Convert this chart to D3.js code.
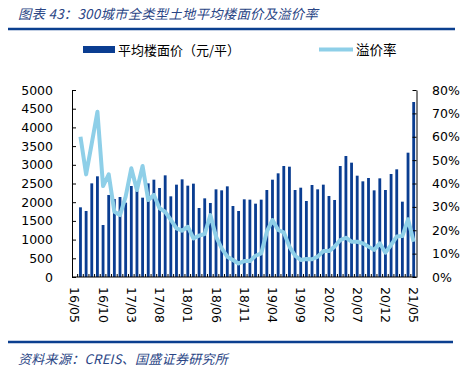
<!DOCTYPE html>
<html>
<head>
<meta charset="utf-8">
<script src="https://cdn.jsdelivr.net/npm/d3@7"></script>
<style>
  body { margin: 0; background: #fff; }
  svg { display: block; }
  .tick text { font-family: "DejaVu Sans", Verdana, sans-serif; font-size: 12.5px; fill: #000; }
</style>
</head>
<body>
<svg width="461" height="372"></svg>
<script>
// months on the category axis (16/05 has no value)
var months = ["16/05","16/06","16/07","16/08","16/09","16/10","16/11","16/12",
  "17/01","17/02","17/03","17/04","17/05","17/06","17/07","17/08","17/09","17/10","17/11","17/12",
  "18/01","18/02","18/03","18/04","18/05","18/06","18/07","18/08","18/09","18/10","18/11","18/12",
  "19/01","19/02","19/03","19/04","19/05","19/06","19/07","19/08","19/09","19/10","19/11","19/12",
  "20/01","20/02","20/03","20/04","20/05","20/06","20/07","20/08","20/09","20/10","20/11","20/12",
  "21/01","21/02","21/03","21/04","21/05"];

// 平均楼面价（元/平）
var prices = [null,1863,1765,2504,2692,1390,2193,2086,
  2139,1988,2433,2299,2121,2504,2602,2380,2718,2157,2469,2611,
  2442,2496,1845,2103,1979,2344,2317,2424,1898,1765,2077,2068,
  1961,2068,2326,2602,2772,2968,2950,2326,2388,2032,2460,2344,
  2469,2166,2059,2968,3235,3057,2709,2558,2647,2317,2638,2326,
  2754,2879,2014,3324,4679];

// 溢价率
var rates = [null,0.600,0.439,0.572,0.707,0.389,0.439,0.279,
  0.265,0.344,0.465,0.372,0.475,0.329,0.351,0.294,0.279,0.244,0.208,0.198,
  0.215,0.165,0.177,0.184,0.265,0.173,0.123,0.087,0.073,0.058,0.068,0.068,
  0.091,0.101,0.194,0.244,0.201,0.191,0.130,0.091,0.073,0.077,0.076,0.087,
  0.111,0.111,0.130,0.158,0.168,0.151,0.151,0.144,0.130,0.116,0.144,0.104,
  0.137,0.173,0.175,0.247,0.151];

var xLabels = ["16/05","16/10","17/03","17/08","18/01","18/06","18/11",
  "19/04","19/09","20/02","20/07","20/12","21/05"];
var leftTicks = [0,500,1000,1500,2000,2500,3000,3500,4000,4500,5000];
var rightTicks = [0,0.1,0.2,0.3,0.4,0.5,0.6,0.7,0.8];

var barColor = "#0a3d91",
  lineColor = "#8ecfe8",
  textBlue = "#2a4585";

var svg = d3.select("svg");
var plotLeft = 72, plotRight = 416.5, plotTop = 90, plotBottom = 277;

var x = d3.scaleBand().domain(months).range([plotLeft, plotRight]).paddingInner(0.5).paddingOuter(0.25);
var yL = d3.scaleLinear().domain([0, 5000]).range([plotBottom, plotTop]);
var yR = d3.scaleLinear().domain([0, 0.8]).range([plotBottom, plotTop]);

// title + rule
svg.append("text")
  .attr("x", 18).attr("y", 19)
  .attr("font-family", "'Noto Sans CJK SC', sans-serif")
  .attr("font-style", "italic")
  .attr("font-size", "13.3px")
  .attr("letter-spacing", "0.3px")
  .attr("fill", textBlue)
  .text("图表 43：300城市全类型土地平均楼面价及溢价率");
svg.append("line")
  .attr("x1", 8).attr("x2", 455).attr("y1", 29).attr("y2", 29)
  .attr("stroke", "#0b3f8f").attr("stroke-width", 2.5);

// legend
svg.append("rect").attr("x", 83).attr("y", 46).attr("width", 32).attr("height", 7).attr("fill", barColor);
svg.append("text").attr("x", 118).attr("y", 55)
  .attr("font-family", "'Noto Sans CJK SC', sans-serif").attr("font-size", "13px")
  .text("平均楼面价（元/平）");
svg.append("line").attr("x1", 319).attr("x2", 353).attr("y1", 49.5).attr("y2", 49.5)
  .attr("stroke", lineColor).attr("stroke-width", 4);
svg.append("text").attr("x", 356).attr("y", 55)
  .attr("font-family", "'Noto Sans CJK SC', sans-serif").attr("font-size", "13.5px")
  .text("溢价率");

// bars
svg.selectAll(".bar")
  .data(months.map(function (m, i) { return { m: m, v: prices[i] }; }).filter(function (d) { return d.v != null; }))
  .enter()
  .append("rect")
  .attr("class", "bar")
  .attr("x", function (d) { return x(d.m); })
  .attr("width", x.bandwidth())
  .attr("y", function (d) { return yL(d.v); })
  .attr("height", function (d) { return plotBottom - yL(d.v); })
  .attr("fill", barColor);

// axes
svg.append("g")
  .attr("transform", "translate(" + plotLeft + ",0)")
  .call(d3.axisLeft(yL).tickValues(leftTicks).tickSizeInner(-4).tickSizeOuter(0).tickPadding(19)
    .tickFormat(d3.format("d")))
  .call(function (g) { g.selectAll("line,path").attr("stroke", "#000"); });

svg.append("g")
  .attr("transform", "translate(" + plotRight + ",0)")
  .call(d3.axisRight(yR).tickValues(rightTicks).tickSizeInner(-4).tickSizeOuter(0).tickPadding(15.5)
    .tickFormat(d3.format(".0%")))
  .call(function (g) { g.selectAll("line,path").attr("stroke", "#000"); });

// bottom axis: small month ticks, rotated labels every 5 months
var xAxis = svg.append("g");
xAxis.append("line")
  .attr("x1", plotLeft).attr("x2", plotRight).attr("y1", plotBottom).attr("y2", plotBottom)
  .attr("stroke", "#000");
xAxis.selectAll(".mt")
  .data(months.slice(1))
  .enter()
  .append("line")
  .attr("x1", function (d) { return x(d) - x.step() * x.paddingInner() / 2; })
  .attr("x2", function (d) { return x(d) - x.step() * x.paddingInner() / 2; })
  .attr("y1", plotBottom).attr("y2", plotBottom - 3)
  .attr("stroke", "#000");
xAxis.selectAll(".xl")
  .data(xLabels)
  .enter()
  .append("text")
  .attr("transform", function (d) { return "translate(" + (x(d) + x.bandwidth() / 2) + ",287) rotate(90)"; })
  .attr("dy", "0.35em")
  .attr("font-family", "'DejaVu Sans', Verdana, sans-serif")
  .attr("font-size", "12.5px")
  .text(function (d) { return d; });

// premium rate line
var line = d3.line()
  .defined(function (d) { return d.v != null; })
  .x(function (d) { return x(d.m) + x.bandwidth() / 2; })
  .y(function (d) { return yR(d.v); });
svg.append("path")
  .datum(months.map(function (m, i) { return { m: m, v: rates[i] }; }))
  .attr("d", line)
  .attr("fill", "none")
  .attr("stroke", lineColor)
  .attr("stroke-width", 4)
  .attr("stroke-linejoin", "round");

// source + rule
svg.append("line")
  .attr("x1", 8).attr("x2", 453).attr("y1", 342).attr("y2", 342)
  .attr("stroke", "#0b3f8f").attr("stroke-width", 2.5);
svg.append("text")
  .attr("x", 18).attr("y", 363.5)
  .attr("font-family", "'Noto Sans CJK SC', sans-serif")
  .attr("font-style", "italic")
  .attr("font-size", "13px")
  .attr("letter-spacing", "0.3px")
  .attr("fill", textBlue)
  .text("资料来源：CREIS、国盛证券研究所");
</script>
</body>
</html>
